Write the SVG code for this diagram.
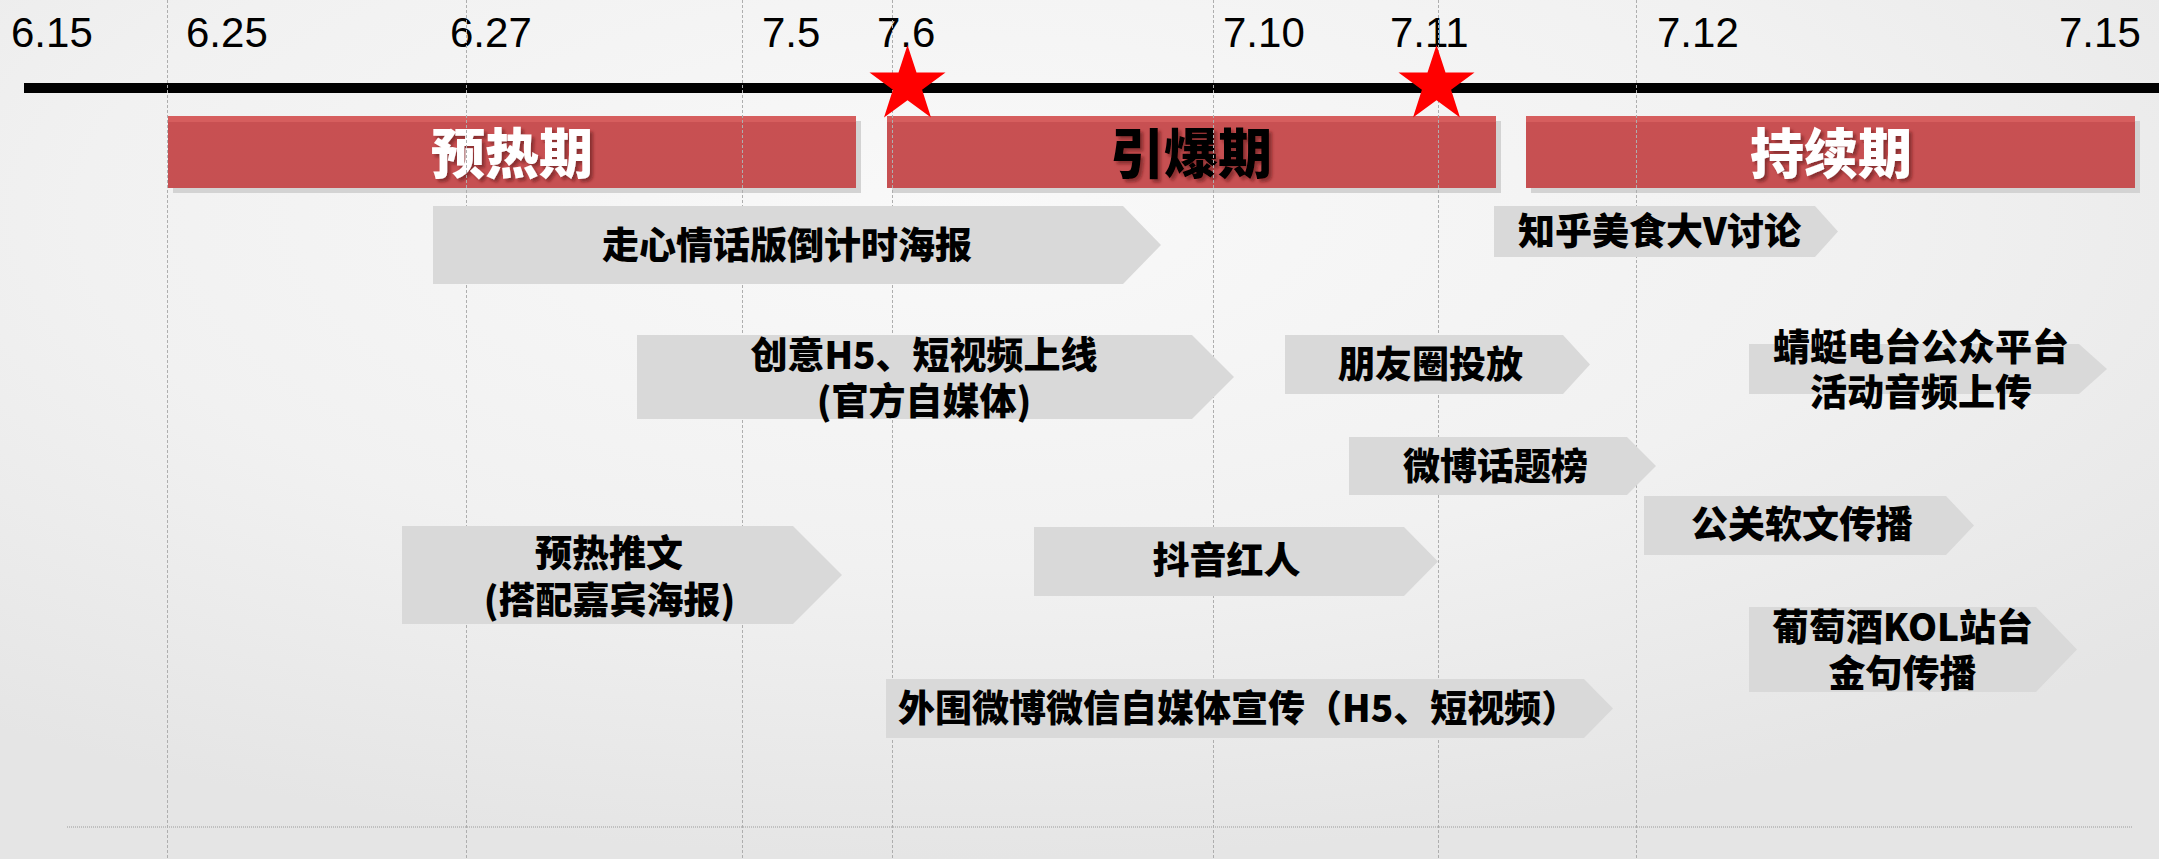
<svg xmlns="http://www.w3.org/2000/svg" width="2159" height="859" viewBox="0 0 2159 859">
  <defs>
    <radialGradient id="bg" cx="0.45" cy="0.25" r="0.75">
      <stop offset="0" stop-color="#f9f9f9"/>
      <stop offset="0.55" stop-color="#f1f1f1"/>
      <stop offset="1" stop-color="#e5e5e5"/>
    </radialGradient>
    <linearGradient id="barFill" x1="0" y1="0" x2="0" y2="1">
      <stop offset="0" stop-color="#D65E5E"/>
      <stop offset="0.08" stop-color="#D65E5E"/>
      <stop offset="0.081" stop-color="#C85052"/>
      <stop offset="1" stop-color="#C65052"/>
    </linearGradient>
    <filter id="txtShadow" x="-10%" y="-20%" width="130%" height="150%">
      <feDropShadow dx="3" dy="3" stdDeviation="1.5" flood-color="#5a1515" flood-opacity="0.55"/>
    </filter>
    <polygon id="star" points="0,-40 9,-12.4 38,-12.4 14.6,4.7 23.5,32.4 0,15.3 -23.5,32.4 -14.6,4.7 -38,-12.4 -9,-12.4"/>
  </defs>
  <style>
    .date { font-family: "Liberation Sans", Arial, sans-serif; font-size: 42px; fill: #000; }
    .grid { stroke: #aeaeae; stroke-width: 1; stroke-dasharray: 3 2; fill: none; }
    .bar { fill: url(#barFill); }
    .barShadow { fill: #d3d3d3; }
    .phase { font-family: "Noto Sans CJK SC", "Liberation Sans", sans-serif; font-size: 54px; font-weight: 900; text-anchor: middle; filter: url(#txtShadow); }
    .arrow { fill: #D9D9D9; }
    .lbl { font-family: "Noto Sans CJK SC", "Liberation Sans", sans-serif; font-size: 37px; font-weight: 900; fill: #000; text-anchor: middle; }
    .star { fill: #FF0000; }
  </style>

  <rect x="0" y="0" width="2159" height="859" fill="url(#bg)"/>

  <!-- bottom dotted rule -->
  <line x1="67" y1="827" x2="2132" y2="827" stroke="#9a9a9a" stroke-width="1" stroke-dasharray="1 1"/>

  <!-- timeline axis -->
  <g id="axis">
    <rect x="24" y="83" width="2135" height="10" fill="#000"/>
    <text class="date" x="11" y="47">6.15</text>
    <text class="date" x="186" y="47">6.25</text>
    <text class="date" x="450" y="47">6.27</text>
    <text class="date" x="762" y="47">7.5</text>
    <text class="date" x="877" y="47">7.6</text>
    <text class="date" x="1223" y="47">7.10</text>
    <text class="date" x="1390" y="47">7.11</text>
    <text class="date" x="1657" y="47">7.12</text>
    <text class="date" x="2059" y="47">7.15</text>
  </g>

  <!-- phase bars -->
  <g id="phase-preheat">
    <rect class="barShadow" x="173" y="121" width="688" height="72"/>
    <rect class="bar" x="168" y="116" width="688" height="72"/>
    <text class="phase" x="512" y="174" fill="#ffffff">预热期</text>
  </g>
  <g id="phase-burst">
    <rect class="barShadow" x="892" y="121" width="609" height="72"/>
    <rect class="bar" x="887" y="116" width="609" height="72"/>
    <text class="phase" x="1191" y="174" fill="#000000">引爆期</text>
  </g>
  <g id="phase-sustain">
    <rect class="barShadow" x="1531" y="121" width="609" height="72"/>
    <rect class="bar" x="1526" y="116" width="609" height="72"/>
    <text class="phase" x="1831" y="174" fill="#ffffff">持续期</text>
  </g>

  <!-- date grid lines -->
  <g id="grid">
    <line class="grid" x1="167.5" y1="0" x2="167.5" y2="859"/>
    <line class="grid" x1="466.5" y1="0" x2="466.5" y2="859"/>
    <line class="grid" x1="742.5" y1="0" x2="742.5" y2="859"/>
    <line class="grid" x1="892.5" y1="0" x2="892.5" y2="859"/>
    <line class="grid" x1="1213.5" y1="0" x2="1213.5" y2="859"/>
    <line class="grid" x1="1438.5" y1="0" x2="1438.5" y2="859"/>
    <line class="grid" x1="1636.5" y1="0" x2="1636.5" y2="859"/>
  </g>

  <!-- stars -->
  <g id="star-7-6"><use href="#star" class="star" x="907.5" y="85"/></g>
  <g id="star-7-11"><use href="#star" class="star" x="1436.5" y="85"/></g>

  <!-- activity arrows -->
  <g id="a-countdown-poster">
    <polygon class="arrow" points="433,206 1123,206 1161,245 1123,284 433,284"/>
    <text class="lbl" x="787" y="259">走心情话版倒计时海报</text>
  </g>
  <g id="a-h5-video">
    <polygon class="arrow" points="637,335 1192,335 1234,377 1192,419 637,419"/>
    <text class="lbl" x="924" y="369">创意H5、短视频上线</text>
    <text class="lbl" x="924" y="415">(官方自媒体)</text>
  </g>
  <g id="a-moments">
    <polygon class="arrow" points="1285,335 1563,335 1590,364.5 1563,394 1285,394"/>
    <text class="lbl" x="1430.5" y="378">朋友圈投放</text>
  </g>
  <g id="a-zhihu">
    <polygon class="arrow" points="1494,206 1815,206 1838,231.5 1815,257 1494,257"/>
    <text class="lbl" x="1659.5" y="245">知乎美食大V讨论</text>
  </g>
  <g id="a-qingting">
    <polygon class="arrow" points="1749,344 2079,344 2107,369 2079,394 1749,394"/>
    <text class="lbl" x="1921" y="361">蜻蜓电台公众平台</text>
    <text class="lbl" x="1921" y="406">活动音频上传</text>
  </g>
  <g id="a-weibo-topic">
    <polygon class="arrow" points="1349,437 1627,437 1656,466 1627,495 1349,495"/>
    <text class="lbl" x="1495.5" y="480">微博话题榜</text>
  </g>
  <g id="a-pr">
    <polygon class="arrow" points="1644,496 1946,496 1974,525.5 1946,555 1644,555"/>
    <text class="lbl" x="1802" y="538">公关软文传播</text>
  </g>
  <g id="a-douyin">
    <polygon class="arrow" points="1034,527 1404,527 1438,561.5 1404,596 1034,596"/>
    <text class="lbl" x="1226.5" y="574">抖音红人</text>
  </g>
  <g id="a-preheat-post">
    <polygon class="arrow" points="402,526 793,526 842,575 793,624 402,624"/>
    <text class="lbl" x="609" y="567">预热推文</text>
    <text class="lbl" x="609.5" y="614">(搭配嘉宾海报)</text>
  </g>
  <g id="a-outer-media">
    <polygon class="arrow" points="886,679 1584,679 1613,708.5 1584,738 886,738"/>
    <text class="lbl" x="898" y="722" style="text-anchor:start">外围微博微信自媒体宣传（H5、短视频）</text>
  </g>
  <g id="a-wine-kol">
    <polygon class="arrow" points="1749,607 2036,607 2077,649.5 2036,692 1749,692"/>
    <text class="lbl" x="1902.5" y="641">葡萄酒KOL站台</text>
    <text class="lbl" x="1902.5" y="687">金句传播</text>
  </g>
</svg>
